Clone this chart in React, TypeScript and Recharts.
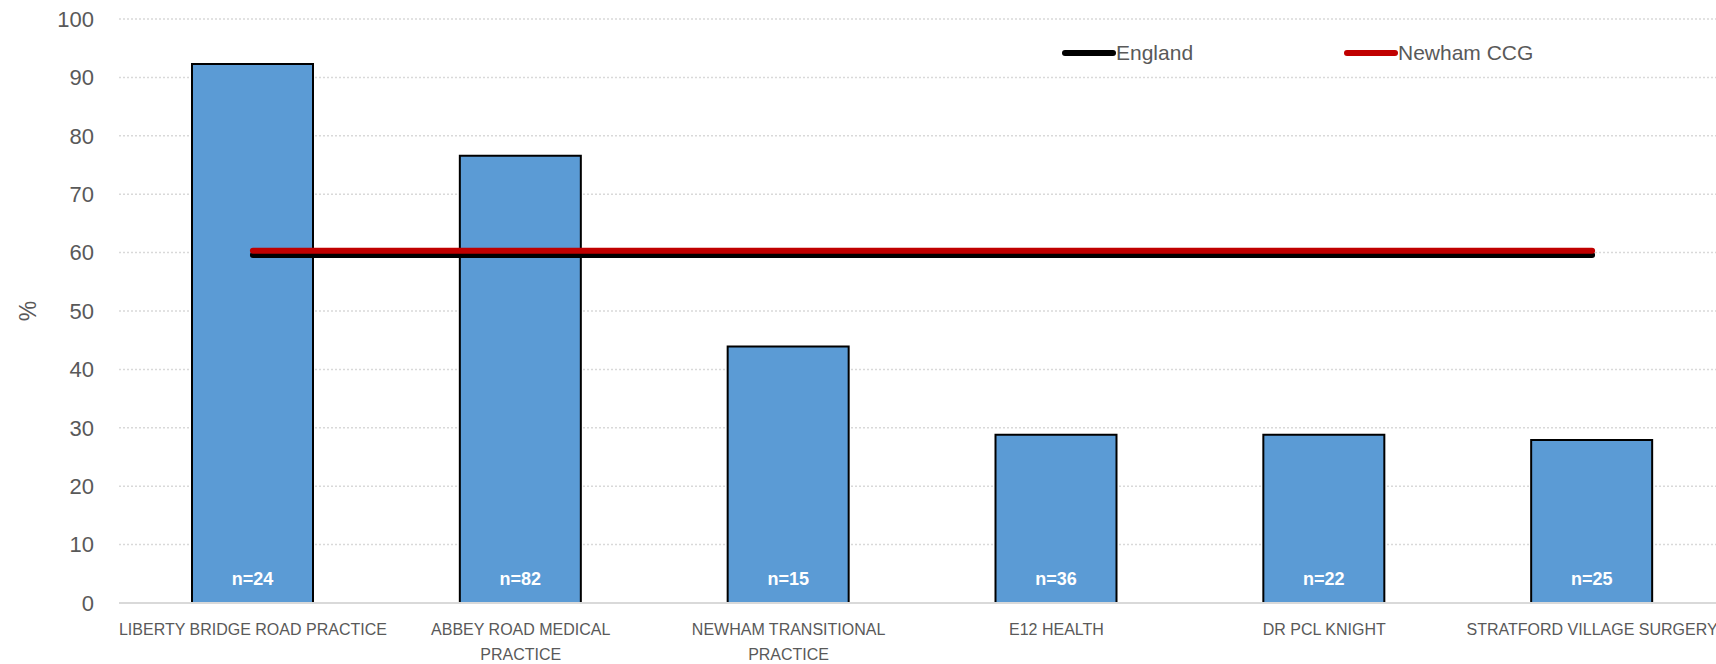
import React from "react";
import {
  ComposedChart,
  Bar,
  Line,
  XAxis,
  YAxis,
  CartesianGrid,
  LabelList,
  Legend,
} from "recharts";

const practices = [
  "LIBERTY BRIDGE ROAD PRACTICE",
  "ABBEY ROAD MEDICAL\nPRACTICE",
  "NEWHAM TRANSITIONAL\nPRACTICE",
  "E12 HEALTH",
  "DR PCL KNIGHT",
  "STRATFORD VILLAGE SURGERY",
];
const percentValues = [92.3, 76.6, 43.9, 28.8, 28.8, 27.9];
const sampleSizes = ["n=24", "n=82", "n=15", "n=36", "n=22", "n=25"];
const englandValues = [59.6, 59.6, 59.6, 59.6, 59.6, 59.6];
const newhamValues = [60.3, 60.3, 60.3, 60.3, 60.3, 60.3];
const yTicks = [0, 10, 20, 30, 40, 50, 60, 70, 80, 90, 100];

const data = practices.map((name, i) => ({
  name,
  value: percentValues[i],
  n: sampleSizes[i],
  england: englandValues[i],
  newham: newhamValues[i],
}));

const GREY = "#595959";

function XTick(props: any) {
  const { x, y, payload } = props;
  const lines = String(payload.value).split("\n");
  return (
    <g transform={`translate(${x},${y})`}>
      {lines.map((line: string, i: number) => (
        <text
          key={i}
          x={0}
          y={i * 25}
          dy={24}
          textAnchor="middle"
          fill={GREY}
          fontSize={16}
          fontFamily="'Liberation Sans Narrow', 'Liberation Sans', sans-serif"
        >
          {line}
        </text>
      ))}
    </g>
  );
}

function YLabel(props: any) {
  const vb = props.viewBox || {};
  const cx = 28;
  const cy = (vb.y ?? 0) + (vb.height ?? 0) / 2;
  return (
    <text
      x={cx}
      y={cy}
      transform={`rotate(-90, ${cx}, ${cy})`}
      textAnchor="middle"
      dominantBaseline="central"
      fill={GREY}
      fontSize={23}
      fontFamily="'Liberation Sans', sans-serif"
    >
      %
    </text>
  );
}

function LegendContent() {
  const items = [
    { label: "England", color: "#000000" },
    { label: "Newham CCG", color: "#C00000" },
  ];
  return (
    <div style={{ display: "flex" }}>
      {items.map((it) => (
        <div
          key={it.label}
          style={{ display: "flex", alignItems: "center", width: 282 }}
        >
          <svg width={54} height={10}>
            <line
              x1={3}
              y1={5}
              x2={51}
              y2={5}
              stroke={it.color}
              strokeWidth={6}
              strokeLinecap="round"
            />
          </svg>
          <span
            style={{
              color: GREY,
              fontSize: 21,
              fontFamily: "'Liberation Sans Narrow', 'Liberation Sans', sans-serif",
            }}
          >
            {it.label}
          </span>
        </div>
      ))}
    </div>
  );
}

export default function App() {
  return (
    <div style={{ position: "absolute", left: 0, top: 0, background: "#fff" }}>
      <ComposedChart
        width={1716}
        height={664}
        data={data}
        margin={{ top: 19, right: -10, bottom: 0, left: 0 }}
      >
        <CartesianGrid
          vertical={false}
          stroke="#d9d9d9"
          strokeDasharray="2 2"
          strokeWidth={1.5}
        />
        <XAxis
          dataKey="name"
          height={61}
          interval={0}
          tickLine={false}
          axisLine={{ stroke: "#d9d9d9", strokeWidth: 2 }}
          tick={<XTick />}
        />
        <YAxis
          width={119}
          domain={[0, 100]}
          ticks={yTicks}
          interval={0}
          axisLine={false}
          tickLine={false}
          tickMargin={19}
          tick={{
            fill: GREY,
            fontSize: 22,
            fontFamily: "'Liberation Sans', sans-serif",
          }}
          label={<YLabel />}
        />
        <Legend
          verticalAlign="middle"
          align="center"
          layout="horizontal"
          content={<LegendContent />}
          wrapperStyle={{ top: 41, left: 1062, width: 600 }}
        />
        <Bar
          dataKey="value"
          fill="#5B9BD5"
          stroke="#000000"
          strokeWidth={2}
          barSize={121}
          isAnimationActive={false}
        >
          <LabelList
            dataKey="n"
            position="insideBottom"
            offset={18}
            fill="#ffffff"
            fontSize={18}
            fontWeight="bold"
            fontFamily="'Liberation Sans', sans-serif"
          />
        </Bar>
        <Line
          dataKey="england"
          stroke="#000000"
          strokeWidth={6}
          strokeLinecap="round"
          dot={false}
          activeDot={false}
          isAnimationActive={false}
        />
        <Line
          dataKey="newham"
          stroke="#C00000"
          strokeWidth={6}
          strokeLinecap="round"
          dot={false}
          activeDot={false}
          isAnimationActive={false}
        />
      </ComposedChart>
    </div>
  );
}
